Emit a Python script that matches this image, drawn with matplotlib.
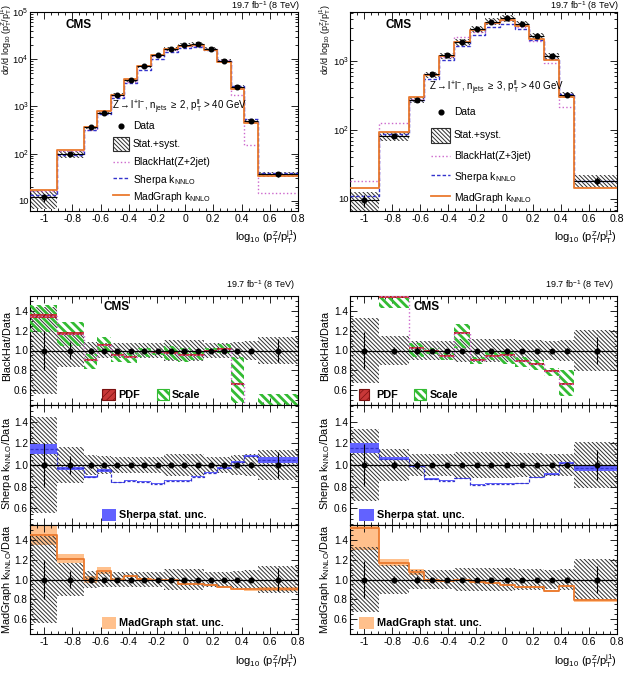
import numpy as np
import matplotlib
matplotlib.use("Agg")
import matplotlib.pyplot as plt
from matplotlib.patches import Rectangle
from matplotlib.lines import Line2D
from matplotlib.ticker import MultipleLocator, LogLocator, FuncFormatter, NullFormatter, FixedLocator

plt.rcParams['font.family'] = ['Liberation Sans', 'DejaVu Sans']
plt.rcParams['mathtext.fontset'] = 'custom'
plt.rcParams['mathtext.rm'] = 'Liberation Sans'
plt.rcParams['mathtext.it'] = 'Liberation Sans:italic'
plt.rcParams['mathtext.bf'] = 'Liberation Sans:bold'
plt.rcParams['mathtext.sf'] = 'Liberation Sans'
plt.rcParams['axes.unicode_minus'] = False

W, H = 636, 678

# ---------------- n_jets >= 2 (left column) ----------------
edges_2j = [-1.1, -0.91, -0.716, -0.622, -0.527, -0.433, -0.338, -0.243, -0.149,
            -0.054, 0.040, 0.135, 0.229, 0.324, 0.418, 0.513, 0.8]
x_2j = [-1.0, -0.816, -0.669, -0.572, -0.48, -0.383, -0.291, -0.196, -0.102,
        -0.007, 0.088, 0.182, 0.277, 0.371, 0.466, 0.657]
data_2j = [11.8, 98, 360, 740, 1780, 3600, 7100, 12200, 16300, 19800, 20500,
           16800, 9300, 2600, 500, 36.6]
unc_2j = [0.44, 0.165, 0.09, 0.08, 0.075, 0.075, 0.075, 0.075, 0.105, 0.105,
          0.105, 0.075, 0.075, 0.09, 0.10, 0.135]
stat_2j = [0.2, 0.085, 0.03, 0.02, 0.015, 0.01, 0.01, 0.01, 0.01, 0.01, 0.01,
           0.01, 0.01, 0.015, 0.03, 0.12]
bh_2j = [1.35, 1.17, 0.90, 1.06, 0.95, 0.93, 0.99, 0.98, 0.97, 0.95, 0.95,
         1.0, 1.02, 0.66, 0.30, 0.40]
bh_scale_lo_2j = [1.19, 1.05, 0.81, 1.0, 0.88, 0.87, 0.93, 0.95, 0.90, 0.88,
                  0.90, 0.97, 0.97, 0.47, 0.20, 0.30]
bh_scale_hi_2j = [1.46, 1.29, 0.96, 1.14, 1.0, 0.97, 1.03, 1.0, 1.05, 1.03,
                  1.0, 1.03, 1.07, 0.93, 0.40, 0.56]
bh_pdf_2j = [0.02, 0.015, 0.01, 0.01, 0.01, 0.01, 0.01, 0.01, 0.01, 0.01, 0.01,
             0.01, 0.01, 0.01, 0.01, 0.01]
sh_2j = [1.15, 0.97, 0.89, 0.95, 0.84, 0.856, 0.847, 0.826, 0.853, 0.856, 0.893,
         0.93, 0.975, 1.03, 1.085, 1.045]
sh_err_2j = [0.045, 0.015, 0.012, 0.012, 0.005, 0.005, 0.005, 0.005, 0.005,
             0.005, 0.006, 0.007, 0.008, 0.01, 0.012, 0.025]
mg_2j = [1.45, 1.21, 1.0, 1.09, 1.0, 1.035, 1.01, 0.99, 0.99, 0.953, 0.953,
         0.943, 0.926, 0.90, 0.90, 0.90]
mg_err_2j = [0.10, 0.045, 0.04, 0.035, 0.015, 0.012, 0.01, 0.008, 0.008, 0.008,
             0.008, 0.008, 0.01, 0.012, 0.015, 0.02]

# ---------------- n_jets >= 3 (right column) ----------------
edges_3j = [-1.1, -0.892, -0.681, -0.573, -0.465, -0.357, -0.249, -0.141, -0.034,
            0.074, 0.175, 0.283, 0.386, 0.494, 0.8]
x_3j = [-1.0, -0.784, -0.626, -0.52, -0.412, -0.305, -0.197, -0.094, 0.014,
        0.122, 0.23, 0.338, 0.441, 0.657]
data_3j = [9.6, 81, 275, 635, 1200, 1860, 2900, 3700, 4120, 3450, 2260, 1180, 323, 18.5]
unc_3j = [0.33, 0.145, 0.10, 0.10, 0.10, 0.12, 0.12, 0.12, 0.12, 0.11, 0.11,
          0.10, 0.105, 0.21]
stat_3j = [0.19, 0.035, 0.04, 0.02, 0.015, 0.015, 0.01, 0.01, 0.01, 0.01, 0.01,
           0.015, 0.03, 0.14]
bh_3j = [1.88, 1.55, 1.03, 1.0, 0.94, 1.18, 0.90, 0.94, 0.95, 0.89, 0.86, 0.79,
         0.66, np.nan]
bh_scale_lo_3j = [1.6, 1.43, 0.93, 0.96, 0.90, 1.03, 0.86, 0.90, 0.86, 0.83,
                  0.80, 0.74, 0.54, np.nan]
bh_scale_hi_3j = [2.2, 1.7, 1.08, 1.03, 0.97, 1.27, 0.93, 0.98, 1.0, 0.93, 0.90,
                  0.82, 0.80, np.nan]
bh_pdf_3j = [0.02, 0.015, 0.01, 0.01, 0.01, 0.01, 0.01, 0.01, 0.01, 0.01, 0.01,
             0.01, 0.01, np.nan]
sh_3j = [1.16, 1.06, 0.99, 0.87, 0.853, 0.878, 0.817, 0.826, 0.826, 0.832, 0.887,
         0.915, 1.02, 0.97]
sh_err_3j = [0.045, 0.012, 0.01, 0.006, 0.005, 0.005, 0.005, 0.005, 0.005, 0.005,
             0.006, 0.007, 0.01, 0.025]
mg_3j = [1.52, 1.17, 1.08, 0.99, 0.987, 1.0, 0.976, 0.966, 0.943, 0.926, 0.926,
         0.882, 0.933, 0.79]
mg_err_3j = [0.22, 0.035, 0.03, 0.012, 0.01, 0.01, 0.008, 0.008, 0.008, 0.008,
             0.01, 0.01, 0.012, 0.015]

GREY = '#2e2e2e'
GREY_HATCH = r'\\\\\\\\'
BH_C = '#cc66cc'
SCALE_C = '#33bb33'
SCALE_HATCH = r'\\\\'
PDF_FACE = '#c83838'
PDF_EDGE = '#7a1010'
SH_C = '#3333cc'
SH_BAND = '#6262ff'
MG_C = '#ea7a2e'
MG_BAND = '#ffc08c'


def ext(v):
    v = list(v)
    return np.array(v + [v[-1]], dtype=float)


def hatch_lw(artist, lw):
    try:
        artist.set_hatch_linewidth(lw)
    except AttributeError:
        pass


def fill_bins(ax, edges, lo, hi, hlw=None, **kw):
    # one patch per bin so that missing bins (nan) do not cut their neighbours
    for a, b, l, h in zip(edges[:-1], edges[1:], lo, hi):
        if np.isfinite(l) and np.isfinite(h):
            art = ax.fill_between([a, b], [l, l], [h, h], **kw)
            if hlw is not None:
                hatch_lw(art, hlw)


def add_axes_px(fig, x0, y0, x1, y1):
    return fig.add_axes([x0 / W, 1 - y1 / H, (x1 - x0) / W, (y1 - y0) / H])


def ftext(fig, x, y, s, **kw):
    return fig.text(x / W, 1 - y / H, s, **kw)


def fbox(fig, x0, y0, x1, y1, **kw):
    r = Rectangle((x0 / W, 1 - y1 / H), (x1 - x0) / W, (y1 - y0) / H,
                  transform=fig.transFigure, **kw)
    fig.add_artist(r)
    return r


def fline(fig, x0, x1, y, **kw):
    fig.add_artist(Line2D([x0 / W, x1 / W], [1 - y / H] * 2, transform=fig.transFigure, **kw))


def xfmt(v, pos):
    if abs(v - round(v)) < 1e-9:
        return '%d' % round(v)
    return '%.1f' % v


def logfmt(v, pos):
    n = int(round(np.log10(v)))
    return '10' if n == 1 else r'10$^{%d}$' % n


def style_axes(ax, log=False):
    ax.set_xlim(-1.1, 0.8)
    ax.xaxis.set_major_locator(FixedLocator(np.round(np.arange(-1.0, 0.81, 0.2), 2)))
    ax.xaxis.set_major_formatter(FuncFormatter(xfmt))
    ax.xaxis.set_minor_locator(MultipleLocator(0.05))
    if log:
        ax.set_yscale('log')
        ax.yaxis.set_major_locator(LogLocator(base=10, numticks=10))
        ax.yaxis.set_major_formatter(FuncFormatter(logfmt))
        ax.yaxis.set_minor_locator(LogLocator(base=10, subs=np.arange(2, 10), numticks=20))
        ax.yaxis.set_minor_formatter(NullFormatter())
    else:
        ax.set_ylim(0.445, 1.555)
        ax.yaxis.set_major_locator(FixedLocator([0.6, 0.8, 1.0, 1.2, 1.4]))
        ax.yaxis.set_major_formatter(FuncFormatter(lambda v, p: '%.1f' % v))
        ax.yaxis.set_minor_locator(MultipleLocator(0.05))
    ax.tick_params(which='both', direction='in', top=True, right=True, width=0.6,
                   labelsize=7.6, pad=2.5)
    ax.tick_params(which='major', length=5)
    ax.tick_params(which='minor', length=2.5)
    ax.tick_params(axis='y', labelsize=6.8 if log else 7.2, pad=1.0 if log else 1.5)
    for s in ax.spines.values():
        s.set_linewidth(0.8)


def draw_top(ax, edges, xs, data, unc, stat, bh, sh, mg):
    e = np.array(edges)
    d = np.array(data)
    xs = np.array(xs)
    band = ax.fill_between(e, ext(d * (1 - np.array(unc))), ext(d * (1 + np.array(unc))),
                           step='post', facecolor='white', edgecolor=GREY,
                           hatch=GREY_HATCH, linewidth=0, zorder=2)
    hatch_lw(band, 0.7)
    ax.step(e, ext(d * np.array(bh)), where='post', color=BH_C, ls=':', lw=1.0, zorder=3)
    ax.step(e, ext(d * np.array(sh)), where='post', color=SH_C, ls=(0, (2.5, 1.5)), lw=1.0, zorder=3)
    ax.step(e, ext(d * np.array(mg)), where='post', color=MG_C, ls='-', lw=1.3, zorder=4)
    xerr = [xs - e[:-1], e[1:] - xs]
    ax.errorbar(xs, d, yerr=d * np.array(stat), xerr=xerr, fmt='o', color='k', ms=3.3,
                lw=0.8, capsize=0, zorder=6)


def draw_data_ratio(ax, edges, xs, unc, stat, band_z=2):
    e = np.array(edges)
    u = np.array(unc)
    band = ax.fill_between(e, ext(1 - u), ext(1 + u), step='post', facecolor='none',
                           edgecolor=GREY, hatch=GREY_HATCH, linewidth=0, zorder=band_z)
    hatch_lw(band, 0.7)
    ax.axhline(1.0, color='k', lw=0.9, zorder=6)
    ax.errorbar(xs, np.ones(len(xs)), yerr=stat, fmt='o', color='k', ms=3.3, lw=0.8,
                capsize=0, zorder=7)


def draw_bh(ax, edges, xs, unc, stat, bh, lo, hi, pdf):
    e = np.array(edges)
    draw_data_ratio(ax, edges, xs, unc, stat)
    fill_bins(ax, e, lo, hi, hlw=2.0, facecolor='none', edgecolor=SCALE_C,
              hatch=SCALE_HATCH, linewidth=0, zorder=3)
    b = np.array(bh)
    p = np.array(pdf)
    fill_bins(ax, e, b - p, b + p, hlw=0.5, facecolor=PDF_FACE, edgecolor=PDF_EDGE,
              hatch='/////', linewidth=0, zorder=4)
    ax.step(e, ext(b), where='post', color=BH_C, ls=':', lw=1.0, zorder=5)


def draw_sh(ax, edges, xs, unc, stat, sh, err):
    e = np.array(edges)
    draw_data_ratio(ax, edges, xs, unc, stat)
    s = np.array(sh)
    r = np.array(err)
    ax.fill_between(e, ext(s - r), ext(s + r), step='post', facecolor=SH_BAND,
                    edgecolor='none', linewidth=0, zorder=3)
    ax.step(e, ext(s), where='post', color=SH_C, ls=(0, (2.5, 1.5)), lw=0.9, zorder=4)


def draw_mg(ax, edges, xs, unc, stat, mg, err):
    e = np.array(edges)
    m = np.array(mg)
    r = np.array(err)
    ax.fill_between(e, ext(m - r), ext(m + r), step='post', facecolor=MG_BAND,
                    edgecolor='none', linewidth=0, zorder=1)
    draw_data_ratio(ax, edges, xs, unc, stat)
    ax.step(e, ext(m), where='post', color=MG_C, ls='-', lw=1.3, zorder=4)


fig = plt.figure(figsize=(W / 100, H / 100), dpi=100)

ylabel_top = r'd$\sigma$/d log$_{10}$ (p$_{\rm T}^{\rm Z}$/p$_{\rm T}^{\rm j1}$)'
xlabel = r'log$_{10}$ (p$_{\rm T}^{\rm Z}$/p$_{\rm T}^{\rm j1}$)'
lumi = r'19.7 fb$^{-1}$ (8 TeV)'

columns = [
    dict(x0=30, x1=298, edges=edges_2j, xs=x_2j, data=data_2j, unc=unc_2j, stat=stat_2j,
         bh=bh_2j, lo=bh_scale_lo_2j, hi=bh_scale_hi_2j, pdf=bh_pdf_2j,
         sh=sh_2j, sh_err=sh_err_2j, mg=mg_2j, mg_err=mg_err_2j, ylim=(6.1, 1e5),
         njet='2', bhname='BlackHat(Z+2jet)', labx=7.5, tlabx=6.4, lumx=300,
         cms_top=65, cms_rat=103,
         leg=dict(hx=112, hy=107, mx0=113, mx1=129, tx=133, ys=[126, 144, 162, 178, 195],
                  box=(137, 151)),
         pdfbox=(102, 115, 118), scalebox=(157, 169, 172), statbox=(102, 116, 119)),
    dict(x0=350, x1=617, edges=edges_3j, xs=x_3j, data=data_3j, unc=unc_3j, stat=stat_3j,
         bh=bh_3j, lo=bh_scale_lo_3j, hi=bh_scale_hi_3j, pdf=bh_pdf_3j,
         sh=sh_3j, sh_err=sh_err_3j, mg=mg_3j, mg_err=mg_err_3j, ylim=(6.7, 5100),
         njet='3', bhname='BlackHat(Z+3jet)', labx=325.5, tlabx=325, lumx=619,
         cms_top=385, cms_rat=414,
         leg=dict(hx=429, hy=88, mx0=431, mx1=450, tx=454, ys=[112, 135, 156, 175, 196],
                  box=(128, 143)),
         pdfbox=(359, 369, 376), scalebox=(414, 426, 430), statbox=(359, 374, 377)),
]

for c in columns:
    # ---- spectrum
    ax = add_axes_px(fig, c['x0'], 12, c['x1'], 211)
    draw_top(ax, c['edges'], c['xs'], c['data'], c['unc'], c['stat'], c['bh'], c['sh'], c['mg'])
    style_axes(ax, log=True)
    ax.set_ylim(*c['ylim'])
    ftext(fig, c['tlabx'], 4, ylabel_top, rotation=90, ha='center', va='top', fontsize=6.4)
    ftext(fig, c['x1'], 237, xlabel, ha='right', va='center', fontsize=8)
    ftext(fig, c['lumx'], 6, lumi, ha='right', va='center', fontsize=6.5)
    ftext(fig, c['cms_top'], 24.5, 'CMS', ha='left', va='center', fontsize=8.5, weight='bold')

    lg = c['leg']
    header = (r'Z$\rightarrow$l$^{+}$l$^{-}$, n$_{\rm jets}$ $\geq$ ' + c['njet'] +
              r', p$_{\rm T}^{\rm ll}$ > 40 GeV')
    ftext(fig, lg['hx'], lg['hy'], header, ha='left', va='center', fontsize=7.0)
    ys = lg['ys']
    mx = 0.5 * (lg['mx0'] + lg['mx1'])
    fig.add_artist(Line2D([mx / W], [1 - ys[0] / H], marker='o', color='k', ms=3.4,
                          transform=fig.transFigure))
    b = fbox(fig, lg['mx0'], lg['box'][0], lg['mx1'], lg['box'][1], facecolor='white',
             edgecolor=GREY, hatch=GREY_HATCH, linewidth=0.8)
    hatch_lw(b, 0.7)
    fline(fig, lg['mx0'], lg['mx1'], ys[2], color=BH_C, ls=':', lw=1.0)
    fline(fig, lg['mx0'], lg['mx1'], ys[3], color=SH_C, ls=(0, (2.5, 1.5)), lw=1.0)
    fline(fig, lg['mx0'], lg['mx1'], ys[4], color=MG_C, ls='-', lw=1.3)
    labels = ['Data', 'Stat.+syst.', c['bhname'], r'Sherpa k$_{\rm NNLO}$',
              r'MadGraph k$_{\rm NNLO}$']
    for lab, yy in zip(labels, ys):
        ftext(fig, lg['tx'], yy + (2 if 'NNLO' in lab else 0), lab, ha='left',
              va='center', fontsize=7.4)

    # ---- BlackHat / data
    ax1 = add_axes_px(fig, c['x0'], 296, c['x1'], 405)
    draw_bh(ax1, c['edges'], c['xs'], c['unc'], c['stat'], c['bh'], c['lo'], c['hi'], c['pdf'])
    style_axes(ax1)
    ax1.tick_params(labelbottom=False)
    ftext(fig, c['labx'], 346, 'BlackHat/Data', rotation=90, ha='center', va='center',
          fontsize=7.8)
    ftext(fig, c['lumx'] - 5, 285, lumi, ha='right', va='center', fontsize=6.5)
    ftext(fig, c['cms_rat'], 307, 'CMS', ha='left', va='center', fontsize=8.5, weight='bold')
    px0, px1, ptx = c['pdfbox']
    b = fbox(fig, px0, 389, px1, 400, facecolor=PDF_FACE, edgecolor=PDF_EDGE,
             hatch='/////', linewidth=0.8)
    hatch_lw(b, 0.5)
    ftext(fig, ptx, 395, 'PDF', ha='left', va='center', fontsize=7.8, weight='bold')
    sx0, sx1, stx = c['scalebox']
    b = fbox(fig, sx0, 389, sx1, 400, facecolor='white', edgecolor=SCALE_C,
             hatch=SCALE_HATCH, linewidth=0.8)
    hatch_lw(b, 2.0)
    ftext(fig, stx, 395, 'Scale', ha='left', va='center', fontsize=7.8, weight='bold')

    # ---- Sherpa / data
    ax2 = add_axes_px(fig, c['x0'], 405, c['x1'], 525)
    draw_sh(ax2, c['edges'], c['xs'], c['unc'], c['stat'], c['sh'], c['sh_err'])
    style_axes(ax2)
    ax2.tick_params(labelbottom=False)
    ftext(fig, c['labx'], 463, r'Sherpa k$_{\rm NNLO}$/Data', rotation=90, ha='center',
          va='center', fontsize=7.8)
    bx0, bx1, btx = c['statbox']
    fbox(fig, bx0, 509, bx1, 521, facecolor=SH_BAND, edgecolor='none', linewidth=0)
    ftext(fig, btx, 515, 'Sherpa stat. unc.', ha='left', va='center', fontsize=7.8,
          weight='bold')

    # ---- MadGraph / data
    ax3 = add_axes_px(fig, c['x0'], 525, c['x1'], 634)
    draw_mg(ax3, c['edges'], c['xs'], c['unc'], c['stat'], c['mg'], c['mg_err'])
    style_axes(ax3)
    ftext(fig, c['labx'], 579, r'MadGraph k$_{\rm NNLO}$/Data', rotation=90, ha='center',
          va='center', fontsize=7.8)
    fbox(fig, bx0, 617, bx1, 629, facecolor=MG_BAND, edgecolor='none', linewidth=0)
    ftext(fig, btx, 623, 'MadGraph stat. unc.', ha='left', va='center', fontsize=7.8,
          weight='bold')
    ftext(fig, c['x1'], 661, xlabel, ha='right', va='center', fontsize=8)

fig.savefig('out.png', dpi=100)
